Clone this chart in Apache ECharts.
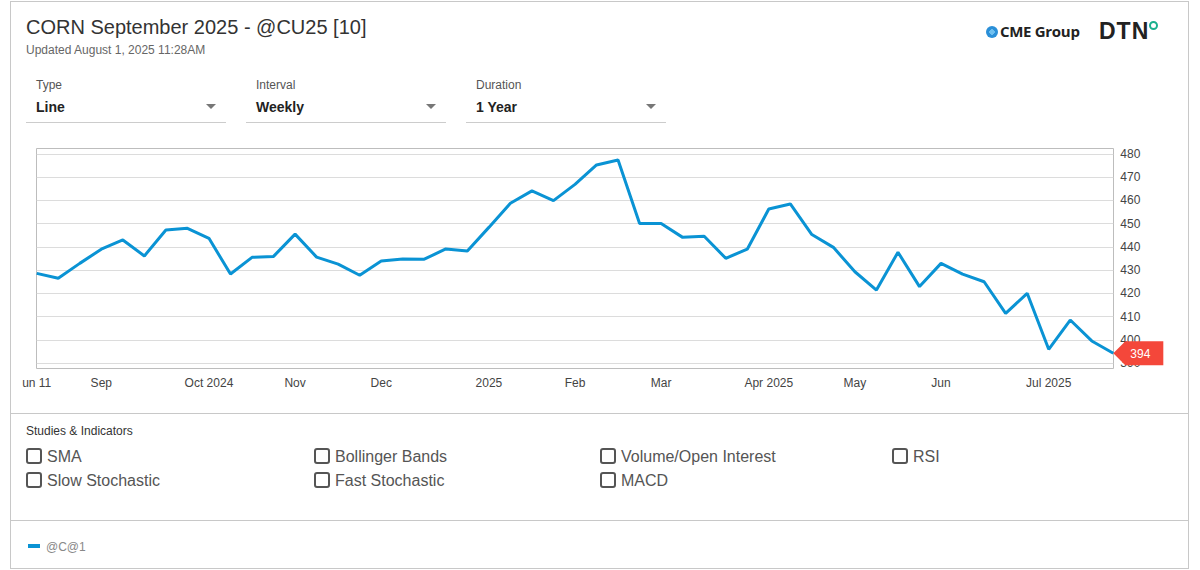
<!DOCTYPE html>
<html>
<head>
<meta charset="utf-8">
<script src="https://cdn.jsdelivr.net/npm/echarts@6/dist/echarts.min.js"></script>
<style>
  html, body { margin:0; padding:0; width:1200px; height:570px; background:#fff; overflow:hidden;
    font-family: "Liberation Sans", Arial, sans-serif; }
  .frame { position:absolute; left:10px; top:1px; width:1177px; height:566px; border:1px solid #c8c8c8; box-sizing:content-box; }
  .sep { position:absolute; left:10px; width:1178px; height:1px; background:#c8c8c8; }
  .title { position:absolute; left:26px; top:16px; font-size:20px; color:#333; }
  .updated { position:absolute; left:26px; top:43px; font-size:12px; color:#666; }
  .sel { position:absolute; top:76px; width:200px; height:46px; border-bottom:1px solid #ccc; }
  .sel .lab { position:absolute; left:10px; top:2px; font-size:12px; color:#555; }
  .sel .val { position:absolute; left:10px; top:23px; font-size:14px; font-weight:bold; color:#222; }
  .sel .arr { position:absolute; right:10px; top:28px; width:0; height:0; border-left:5px solid transparent;
    border-right:5px solid transparent; border-top:5px solid #777; }
  .studies { position:absolute; left:26px; top:424px; font-size:12px; color:#333; }
  .cb { position:absolute; font-size:16px; color:#555; height:20px; line-height:20px; }
  .cb span.box { display:inline-block; width:12px; height:12px; border:2px solid #555; border-radius:3px;
    vertical-align:-2px; margin-right:5px; box-sizing:content-box; }
  .legend { position:absolute; left:28px; top:540px; font-size:12px; color:#888; }
  .legend .dash { display:inline-block; width:12px; height:4px; background:#0a93d4; vertical-align:3px; margin-right:6px; }
  #chart { position:absolute; left:0; top:140px; width:1200px; height:260px; }
  .cme { position:absolute; left:986px; top:21px; font-size:15px; font-weight:bold; color:#222; font-family:"Open Sans","Liberation Sans",sans-serif; letter-spacing:-0.3px; }
  .cme .globe { display:inline-block; width:12px; height:12px; border-radius:50%; background:#2a8fd8;
    vertical-align:-1px; margin-right:2px; background-image: radial-gradient(circle, #6fc0f0 0 30%, #2a8fd8 31%); }
  .dtn { position:absolute; left:1099px; top:18px; font-size:23px; font-weight:bold; color:#222; font-family:"Liberation Sans",Arial,sans-serif; letter-spacing:1px; }
  .dtn .o { position:absolute; right:-9px; top:3px; width:5px; height:5px; border:2px solid #1bb08e; border-radius:50%; }
</style>
</head>
<body>
<div class="frame"></div>
<div class="sep" style="top:413px"></div>
<div class="sep" style="top:520px"></div>
<div class="title">CORN September 2025 - @CU25 [10]</div>
<div class="updated">Updated August 1, 2025 11:28AM</div>
<div class="cme"><span class="globe"></span>CME Group</div>
<div class="dtn">DTN<span class="o"></span></div>

<div class="sel" style="left:26px"><div class="lab">Type</div><div class="val">Line</div><div class="arr"></div></div>
<div class="sel" style="left:246px"><div class="lab">Interval</div><div class="val">Weekly</div><div class="arr"></div></div>
<div class="sel" style="left:466px"><div class="lab">Duration</div><div class="val">1 Year</div><div class="arr"></div></div>

<div id="chart"></div>

<div class="studies">Studies &amp; Indicators</div>
<div class="cb" style="left:26px;top:447px"><span class="box"></span>SMA</div>
<div class="cb" style="left:314px;top:447px"><span class="box"></span>Bollinger Bands</div>
<div class="cb" style="left:600px;top:447px"><span class="box"></span>Volume/Open Interest</div>
<div class="cb" style="left:892px;top:447px"><span class="box"></span>RSI</div>
<div class="cb" style="left:26px;top:471px"><span class="box"></span>Slow Stochastic</div>
<div class="cb" style="left:314px;top:471px"><span class="box"></span>Fast Stochastic</div>
<div class="cb" style="left:600px;top:471px"><span class="box"></span>MACD</div>

<div class="legend"><span class="dash"></span>@C@1</div>

<script>
// Weekly closing values (cents/bu)
const prices = [
  428.6, 426.5, 432.9, 439.0, 443.0, 436.1, 447.3, 448.0, 443.7, 428.3,
  435.5, 435.9, 445.5, 435.6, 432.6, 427.8, 433.9, 434.8, 434.7, 439.1,
  438.2, 448.4, 458.8, 464.1, 459.9, 466.9, 475.3, 477.4, 450.1, 450.1,
  444.1, 444.6, 435.1, 439.0, 456.3, 458.5, 445.3, 439.8, 429.3, 421.4,
  437.7, 422.9, 432.9, 428.3, 425.0, 411.4, 420.0, 395.9, 408.5, 399.5,
  394.2
];
// x-axis labels shown at given week indices
const labelIndex = [0, 3, 8, 12, 16, 21, 25, 29, 34, 38, 42, 47];
const labelText  = ["un 11", "Sep", "Oct 2024", "Nov", "Dec", "2025", "Feb", "Mar", "Apr 2025", "May", "Jun", "Jul 2025"];
const yTicks = [390, 400, 410, 420, 430, 440, 450, 460, 470, 480];
const lastLabel = "394";

const categories = prices.map((_, i) => {
  const k = labelIndex.indexOf(i);
  return k >= 0 ? labelText[k] : "";
});

const chart = echarts.init(document.getElementById('chart'), null, { renderer: 'svg' });
chart.setOption({
  animation: false,
  grid: { left: 36.7, right: 86.7, top: 14, bottom: 37 },
  graphic: [{
    type: 'rect', z: 0, silent: true,
    shape: { x: 36.5, y: 8.5, width: 1077, height: 220 },
    style: { fill: 'none', stroke: '#bdbdbd', lineWidth: 1 }
  }],
  xAxis: {
    type: 'category', boundaryGap: false, data: categories,
    axisLine: { show: false }, axisTick: { show: false },
    axisLabel: { interval: 0, margin: 14, color: '#444', fontSize: 12,
      fontFamily: 'Liberation Sans, Arial, sans-serif' },
    splitLine: { show: false }
  },
  yAxis: {
    type: 'value', position: 'right',
    min: yTicks[0], max: yTicks[yTicks.length - 1], interval: 10,
    axisLine: { show: false }, axisTick: { show: false },
    axisLabel: { margin: 7, color: '#444', fontSize: 12, fontFamily: 'Liberation Sans, Arial, sans-serif' },
    splitLine: { lineStyle: { color: '#dcdcdc', width: 1 } }
  },
  series: [{
    type: 'line', data: prices, symbol: 'none', clip: false,
    lineStyle: { color: '#0a93d4', width: 3 },
    markPoint: {
      silent: true,
      data: [{ coord: [prices.length - 1, prices[prices.length - 1]] }],
      symbol: 'path://M0,12 L12,0 L50,0 L50,24 L12,24 Z',
      symbolSize: [50, 24], symbolOffset: [25, 0], symbolKeepAspect: false,
      itemStyle: { color: '#f4473a' },
      label: { show: true, formatter: lastLabel, color: '#fff', fontSize: 12,
        fontFamily: 'Liberation Sans, Arial, sans-serif', offset: [2, 1] }
    }
  }]
});
</script>
</body>
</html>
